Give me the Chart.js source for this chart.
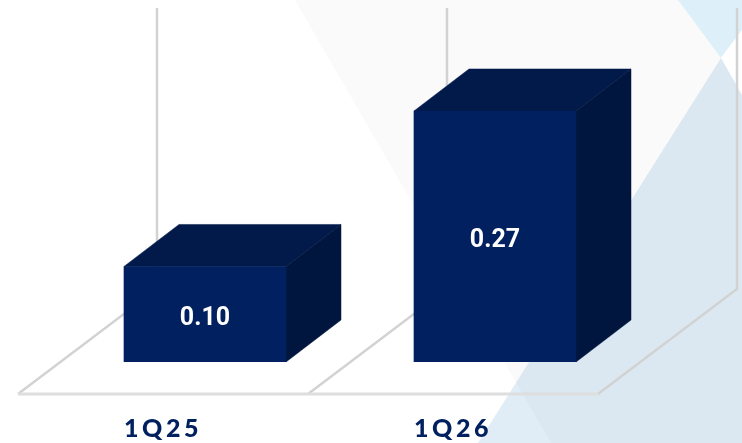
<!DOCTYPE html>
<html>
<head>
<meta charset="utf-8">
<title>1Q25 vs 1Q26</title>
<script src="https://cdn.jsdelivr.net/npm/chart.js@4"></script>
<style>
  html, body { margin: 0; padding: 0; background: #fff; overflow: hidden; }
  #bg { position: absolute; left: 0; top: 0; }
  #chart { position: absolute; left: 0; top: 0; }
</style>
</head>
<body>
<svg id="bg" width="742" height="443">
  <polygon points="295,0 678,0 721,58 742,95 742,443 551,443" fill="#fafafa"/>
  <polygon points="678,0 742,0 742,30 721,58" fill="#ddf0f9"/>
  <polygon points="721,58 742,30 742,95" fill="#ffffff"/>
  <polygon points="721,58 742,95 742,443 478,443" fill="rgb(0,110,180)" fill-opacity="0.12"/>
</svg>
<canvas id="chart" width="742" height="443"></canvas>
<script>
const categories = ['1Q25', '1Q26'];
const values = [0.102, 0.268];

const navy = '#002060';
const topFace = '#011a4a';
const sideFace = '#01163f';
const gridColor = '#d2d2d2';

// depth of the bars and of the floor, in pixels
const barDepth = { x: 55, y: 42 };
const floorFront = { x: 42, y: 32 };
const floorBack = { x: 97, y: 73 };

function poly(ctx, pts, fill) {
  ctx.beginPath();
  pts.forEach((p, i) => i ? ctx.lineTo(p[0], p[1]) : ctx.moveTo(p[0], p[1]));
  ctx.closePath();
  ctx.fillStyle = fill;
  ctx.strokeStyle = fill;
  ctx.lineWidth = 0.5;
  ctx.fill();
  ctx.stroke();
}

const box3d = {
  id: 'box3d',
  beforeDraw(chart) {
    // spacing for the category labels
    chart.ctx.letterSpacing = '3.5px';
  },
  beforeDatasetsDraw(chart) {
    const { ctx, scales: { x, y } } = chart;
    const step = x.getPixelForValue(1) - x.getPixelForValue(0);
    const y0 = y.getPixelForValue(0);
    const yMax = y.getPixelForValue(y.max);
    const left = x.getPixelForValue(0) - step / 2;

    ctx.save();
    ctx.strokeStyle = gridColor;
    ctx.lineWidth = 2.5;
    // walls and floor lines for each category boundary
    for (let i = 0; i <= categories.length; i++) {
      const bx = left + i * step;
      ctx.beginPath();
      ctx.moveTo(bx + floorBack.x, yMax - floorBack.y);
      ctx.lineTo(bx + floorBack.x, y0 - floorBack.y);
      ctx.lineTo(bx - floorFront.x, y0 + floorFront.y);
      ctx.stroke();
    }
    ctx.strokeStyle = '#dedede';
    ctx.lineWidth = 3;
    ctx.beginPath();
    ctx.moveTo(left - floorFront.x, y0 + floorFront.y);
    ctx.lineTo(left + categories.length * step - floorFront.x, y0 + floorFront.y);
    ctx.stroke();

    // top and side of the boxes
    chart.getDatasetMeta(0).data.forEach(bar => {
      const l = bar.x - bar.width / 2;
      const r = bar.x + bar.width / 2;
      poly(ctx, [[l, bar.y], [l + barDepth.x, bar.y - barDepth.y], [r + barDepth.x, bar.y - barDepth.y], [r, bar.y]], topFace);
      poly(ctx, [[r, bar.y], [r + barDepth.x, bar.y - barDepth.y], [r + barDepth.x, y0 - barDepth.y], [r, y0]], sideFace);
    });
    ctx.restore();
  },
  afterDatasetsDraw(chart) {
    const { ctx, scales: { y } } = chart;
    ctx.save();
    ctx.letterSpacing = '0px';
    ctx.fillStyle = '#ffffff';
    ctx.font = '700 25px Roboto';
    ctx.textAlign = 'center';
    ctx.textBaseline = 'middle';
    chart.getDatasetMeta(0).data.forEach((bar, i) => {
      ctx.fillText(values[i].toFixed(2), bar.x, (bar.y + y.getPixelForValue(0)) / 2 + 4.5);
    });
    ctx.restore();
  }
};

new Chart(document.getElementById('chart').getContext('2d'), {
  type: 'bar',
  data: {
    labels: categories,
    datasets: [{
      data: values,
      backgroundColor: navy,
      barThickness: 162
    }]
  },
  options: {
    responsive: false,
    animation: false,
    layout: { padding: { left: 60, right: 102, top: 81, bottom: 0 } },
    plugins: {
      legend: { display: false },
      tooltip: { enabled: false },
      title: { display: false }
    },
    scales: {
      x: {
        grid: { display: false },
        border: { display: false },
        afterFit(axis) { axis.height = 81; },
        ticks: {
          color: navy,
          font: { family: 'Lato', size: 25, weight: '900' },
          padding: 44,
          labelOffset: -42,
          maxRotation: 0
        }
      },
      y: {
        display: false,
        min: 0,
        max: 0.3
      }
    }
  },
  plugins: [box3d]
});
</script>
</body>
</html>
